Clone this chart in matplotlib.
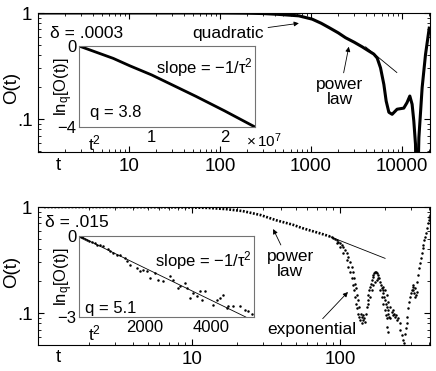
import matplotlib
matplotlib.use('Agg')
import matplotlib.pyplot as plt
from matplotlib.ticker import NullFormatter

plt.rcParams['font.family'] = ['Liberation Sans', 'DejaVu Sans']
plt.rcParams['mathtext.fontset'] = 'custom'
plt.rcParams['mathtext.rm'] = 'Liberation Sans'
plt.rcParams['mathtext.it'] = 'Liberation Sans:italic'
plt.rcParams['mathtext.default'] = 'regular'

# ---- top panel (delta = .0003) ----
top_t = [1, 10, 50, 100, 200, 300, 445, 738, 1034, 1300, 1578, 2000, 2404,
         3000, 3664, 4300, 4920, 5354, 5830, 6345, 6725, 7200, 7820, 8870,
         10500, 11400, 12240, 12970, 13540, 14130, 14600, 15400, 16720,
         18200, 20000]
top_O = [1.0, 1.0, 1.0, 0.999, 0.995, 0.988, 0.97, 0.94, 0.875, 0.80, 0.73,
         0.65, 0.585, 0.53, 0.48, 0.44, 0.41, 0.377, 0.304, 0.212, 0.148,
         0.116, 0.111, 0.124, 0.127, 0.143, 0.165, 0.138, 0.096, 0.058, 0.01,
         0.067, 0.198, 0.405, 0.72]
top_pl_t = [4000, 8810]
top_pl_O = [0.48, 0.275]

# inset: ln_q of O versus t^2
top_in_t2 = [0, 0.47e7, 0.7e7, 1.0e7, 1.61e7, 2.0e7, 2.42e7]
top_in_y = [0, -0.61, -0.98, -1.43, -2.49, -3.2, -4.0]

# ---- bottom panel (delta = .015) ----
smooth_t = [1, 3, 6, 10, 13, 17, 22, 29, 37, 48, 55, 63, 73, 81, 88]
smooth_O = [1.0, 1.0, 0.995, 0.99, 0.98, 0.955, 0.915, 0.84, 0.75, 0.68,
            0.635, 0.6, 0.565, 0.54, 0.52]

dots_t = [87.8, 90.2, 92.5, 95, 97.4, 100, 102.6, 105.3, 108.1, 110.9, 113.8,
          116.8, 119.9, 121.8, 124.3, 126.3, 128.3, 130.9, 133, 135.1, 137.9,
          140.1, 142.3, 145.3,
          95, 100, 105.3, 110.9, 113.8, 116.8, 119.9, 121.8, 124.3, 126.3,
          128.3, 130.9, 133, 135.1, 136.5, 140.1,
          143.8, 147.5, 149.8,
          151.4, 153.8, 155.4, 157.8, 159.5, 162, 163.7, 166.3, 168, 170.6,
          172.4, 175.1, 176.9,
          155.4, 159.5, 163.7, 168, 172.4, 176.9, 181.6,
          179.7, 184.4, 186.4, 189.2, 191.2, 194.2, 196.3, 199.3, 201.4, 204.6,
          206.7, 209.9, 212.1, 215.4, 217.7,
          186.4, 191.2, 196.3, 201.4, 204.6, 208.9, 196.3, 201.4, 206.7, 212.1,
          217.7, 223.4, 226.9, 229.3, 232.9, 235.3, 239, 241.5, 247.8, 254.3,
          208.9, 212.1, 254.3, 261, 267.9, 270.6, 274.9, 279.2,
          282.1, 285.1, 289.5, 294, 297.2, 300.3, 305,
          309.7, 313, 316.2, 321.2, 326.2, 329.6, 321.2, 313,
          333.1, 338.2, 343.6, 347.1, 350.8, 356.3, 361.9, 365.6, 371.4, 375.3,
          379.2, 385, 393.2, 397, 401.5, 405.5]
dots_O = [0.517, 0.506, 0.495, 0.488, 0.471, 0.454, 0.438, 0.422, 0.393, 0.365,
          0.340, 0.305, 0.273, 0.246, 0.212, 0.19, 0.171, 0.148, 0.133, 0.115,
          0.099, 0.092, 0.086, 0.089,
          0.454, 0.422, 0.365, 0.316, 0.273, 0.246, 0.212, 0.184, 0.165, 0.143,
          0.123, 0.111, 0.099, 0.092, 0.086, 0.080,
          0.096, 0.083, 0.099,
          0.115, 0.133, 0.148, 0.165, 0.177, 0.19, 0.205, 0.22, 0.228, 0.237,
          0.246, 0.246, 0.237,
          0.123, 0.143, 0.165, 0.184, 0.198, 0.205, 0.212,
          0.228, 0.212, 0.198, 0.184, 0.171, 0.165, 0.153, 0.143, 0.133, 0.123,
          0.115, 0.107, 0.099, 0.092, 0.089,
          0.165, 0.143, 0.123, 0.107, 0.096, 0.089, 0.177, 0.165, 0.148, 0.128,
          0.115, 0.103, 0.096, 0.107, 0.099, 0.092, 0.096, 0.086, 0.089, 0.08,
          0.074, 0.0667, 0.069, 0.062, 0.056, 0.0518, 0.064, 0.072,
          0.08, 0.092, 0.111, 0.128, 0.143, 0.153, 0.165,
          0.177, 0.165, 0.153, 0.171, 0.148, 0.159, 0.143, 0.184,
          0.198, 0.228, 0.264, 0.294, 0.328, 0.365, 0.407, 0.438, 0.488, 0.525,
          0.564, 0.629, 0.70, 0.754, 0.81, 0.84]
bot_pl_t = [85.6, 201.4]
bot_pl_O = [0.525, 0.328]

bot_in_t2 = [0, 20, 50, 80, 120, 170, 230, 300, 384, 485, 560, 636, 737, 889,
             940, 1040, 1140, 1242, 1394, 1445, 1545, 1747, 1848, 1950, 2050,
             2152, 2303, 2404, 2556, 2758, 2858, 3010, 3060, 3212, 3262, 3364,
             3464, 3565, 3666, 3717, 3818, 4070, 4172, 4272, 4374, 4474, 4525,
             4676, 4878, 5030, 5130, 5232]
bot_in_y = [0, -0.01, -0.03, -0.05, -0.07, -0.10, -0.13, -0.17, -0.22, -0.26,
            -0.32, -0.35, -0.38, -0.47, -0.54, -0.63, -0.69, -0.69, -0.82,
            -0.94, -1.09, -1.19, -1.31, -1.25, -1.31, -1.56, -1.37, -1.62,
            -1.68, -1.49, -1.62, -1.93, -1.86, -1.74, -1.93, -2.30, -2.11,
            -2.24, -2.05, -2.36, -2.05, -2.54, -2.36, -2.30, -2.17, -2.67,
            -2.61, -2.61, -2.61, -2.73, -2.79, -2.89]
bot_fit_t2 = [0, 5050]
bot_fit_y = [0, -3]

fig = plt.figure(figsize=(4.36, 3.71), dpi=100)
ax1 = fig.add_axes([38/436, 1-152/371, 392/436, 139/371])
ax2 = fig.add_axes([38/436, 1-345/371, 392/436, 138/371])
in1 = fig.add_axes([79/436, 1-127/371, 176/436, 81/371])
in2 = fig.add_axes([79/436, 1-317/371, 175/436, 81/371])

arrow = dict(arrowstyle='-|>', color='black', lw=0.6, mutation_scale=7,
             shrinkA=1, shrinkB=0)


def style_main(ax, xticks):
    ax.set_xscale('log')
    ax.set_yscale('log')
    ax.set_xticks(xticks)
    ax.set_xticklabels([str(x) for x in xticks])
    ax.set_yticks([0.1, 1])
    ax.set_yticklabels(['.1', '1'])
    ax.xaxis.set_minor_formatter(NullFormatter())
    ax.yaxis.set_minor_formatter(NullFormatter())
    ax.tick_params(which='both', direction='in', top=True, right=True,
                   labelsize=13.5, pad=4)
    ax.tick_params(which='major', length=4)
    ax.tick_params(which='minor', length=2)


def style_inset(ax):
    ax.set_facecolor('white')
    for s in ax.spines.values():
        s.set_color('0.45')
    ax.tick_params(which='both', direction='in', length=0, labelsize=12,
                   pad=2)


# top main
ax1.plot(top_t, top_O, color='black', lw=2.2, solid_joinstyle='round')
ax1.plot(top_pl_t, top_pl_O, color='black', lw=0.6)
style_main(ax1, [10, 100, 1000, 10000])
ax1.set_xlim(1, 20400)
ax1.set_ylim(0.049, 1)
ax1.text(0.051, -0.094, 't', transform=ax1.transAxes, ha='center',
         va='center', fontsize=13.5)
ax1.text(0.031, 0.856, 'δ = .0003', transform=ax1.transAxes, ha='left',
         va='center', fontsize=12.5)
ax1.annotate('quadratic', xy=(738, 0.8), xytext=(0.485, 0.856),
             textcoords='axes fraction', ha='center', va='center',
             fontsize=12.5, arrowprops=arrow)
ax1.annotate('power\nlaw', xy=(2613, 0.481), xytext=(0.77, 0.432),
             textcoords='axes fraction', ha='center', va='center',
             fontsize=12.5, linespacing=1.0, arrowprops=arrow)

# top inset
in1.plot(top_in_t2, top_in_y, color='black', lw=2.0)
style_inset(in1)
in1.set_xlim(0, 2.42e7)
in1.set_ylim(-4, 0)
in1.set_xticks([1e7, 2e7])
in1.set_xticklabels(['1', '2'])
in1.set_yticks([-4, 0])
in1.set_yticklabels(['\u22124', '0'])
in1.text(0.09, -0.2, '$t^2$', transform=in1.transAxes, ha='center',
         va='center', fontsize=12.5)
in1.text(0.95, -0.17, r'$\times\,10^7$', transform=in1.transAxes,
         ha='left', va='center', fontsize=11)
in1.text(-0.085, 0.5, 'ln$_q$[O(t)]', transform=in1.transAxes, rotation=90,
         ha='center', va='center', fontsize=12)
in1.text(0.99, 0.73, 'slope = \u22121/$\\tau^2$', transform=in1.transAxes,
         ha='right', va='center', fontsize=12)
in1.text(0.06, 0.185, 'q = 3.8', transform=in1.transAxes, ha='left',
         va='center', fontsize=12)

# bottom main
ax2.plot(smooth_t, smooth_O, color='black', lw=1.9, ls=(0, (0.7, 0.6)))
ax2.plot(dots_t, dots_O, 'o', color='black', ms=1.8, mew=0)
ax2.plot(bot_pl_t, bot_pl_O, color='black', lw=0.6)
style_main(ax2, [10, 100])
ax2.set_xlim(0.91, 405)
ax2.set_ylim(0.05, 1)
ax2.text(0.051, -0.087, 't', transform=ax2.transAxes, ha='center',
         va='center', fontsize=13.5)
ax2.text(0.018, 0.891, 'δ = .015', transform=ax2.transAxes, ha='left',
         va='center', fontsize=12.5)
ax2.annotate('power\nlaw', xy=(35.3, 0.62), xytext=(0.643, 0.587),
             textcoords='axes fraction', ha='center', va='center',
             fontsize=12.5, linespacing=1.0, arrowprops=arrow)
ax2.annotate('exponential', xy=(113, 0.158), xytext=(0.699, 0.109),
             textcoords='axes fraction', ha='center', va='center',
             fontsize=12.5, arrowprops=arrow)

# bottom inset
in2.plot(bot_in_t2, bot_in_y, 'o', color='black', ms=1.8, mew=0)
in2.plot(bot_fit_t2, bot_fit_y, color='black', lw=0.6)
style_inset(in2)
in2.set_xlim(0, 5300)
in2.set_ylim(-3, 0)
in2.set_xticks([2000, 4000])
in2.set_xticklabels(['2000', '4000'])
in2.set_yticks([-3, 0])
in2.set_yticklabels(['\u22123', '0'])
in2.text(0.09, -0.2, '$t^2$', transform=in2.transAxes, ha='center',
         va='center', fontsize=12.5)
in2.text(-0.085, 0.5, 'ln$_q$[O(t)]', transform=in2.transAxes, rotation=90,
         ha='center', va='center', fontsize=12)
in2.text(0.99, 0.70, 'slope = \u22121/$\\tau^2$', transform=in2.transAxes,
         ha='right', va='center', fontsize=12)
in2.text(0.034, 0.1, 'q = 5.1', transform=in2.transAxes, ha='left',
         va='center', fontsize=12)

fig.text(12/436, 1-88/371, 'O(t)', rotation=90, ha='center', va='center',
         fontsize=13.5)
fig.text(12/436, 1-272/371, 'O(t)', rotation=90, ha='center', va='center',
         fontsize=13.5)

fig.savefig('out.png', dpi=100)
